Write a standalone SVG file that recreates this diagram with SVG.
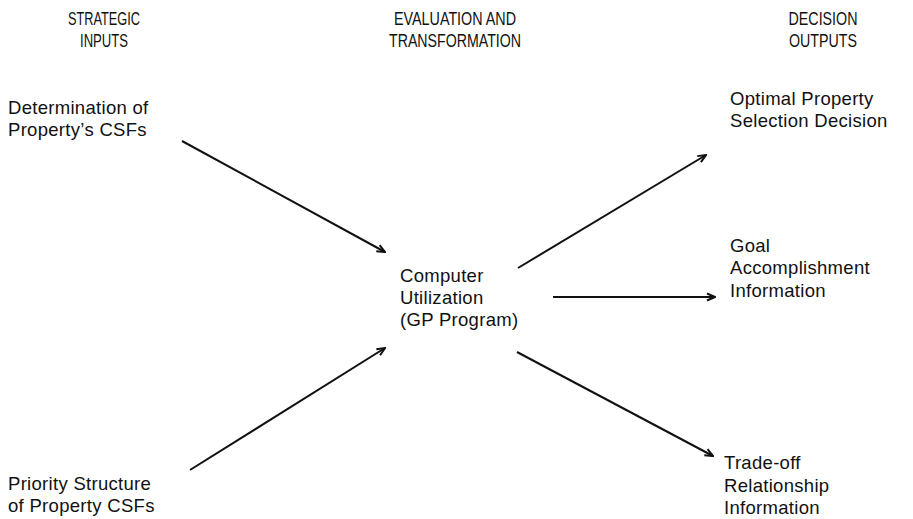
<svg xmlns="http://www.w3.org/2000/svg" width="913" height="519" viewBox="0 0 913 519">
<style>
.h{font-family:"Liberation Sans",Arial,sans-serif;font-size:18px;fill:#111;text-anchor:middle}
.t{font-family:"Liberation Sans",Arial,sans-serif;font-size:18.5px;letter-spacing:0.3px;fill:#111}
.c line{stroke:#111;stroke-width:2;fill:none}
</style>
<defs>
<marker id="ah" viewBox="0 0 10 10" refX="9" refY="5" markerWidth="10" markerHeight="10" markerUnits="userSpaceOnUse" orient="auto">
<path d="M1,1.5 L9,5 L1,8.5" fill="none" stroke="#111" stroke-width="2"/>
</marker>
</defs>
<rect width="913" height="519" fill="#fff"/>
<g id="headers">
<text class="h" x="104" y="25" textLength="72" lengthAdjust="spacingAndGlyphs">STRATEGIC</text>
<text class="h" x="104" y="47" textLength="48" lengthAdjust="spacingAndGlyphs">INPUTS</text>
<text class="h" x="455" y="25" textLength="122" lengthAdjust="spacingAndGlyphs">EVALUATION AND</text>
<text class="h" x="455" y="47" textLength="132" lengthAdjust="spacingAndGlyphs">TRANSFORMATION</text>
<text class="h" x="823" y="25" textLength="69" lengthAdjust="spacingAndGlyphs">DECISION</text>
<text class="h" x="823" y="47" textLength="68" lengthAdjust="spacingAndGlyphs">OUTPUTS</text>
</g>
<g id="n-determination" class="t">
<text x="8" y="114">Determination of</text>
<text x="8" y="136">Property’s CSFs</text>
</g>
<g id="n-priority" class="t">
<text x="8" y="490">Priority Structure</text>
<text x="8" y="512">of Property CSFs</text>
</g>
<g id="n-computer" class="t">
<text x="400" y="282">Computer</text>
<text x="400" y="304">Utilization</text>
<text x="400" y="326">(GP Program)</text>
</g>
<g id="n-optimal" class="t">
<text x="730" y="105">Optimal Property</text>
<text x="730" y="127">Selection Decision</text>
</g>
<g id="n-goal" class="t">
<text x="730" y="252">Goal</text>
<text x="730" y="274">Accomplishment</text>
<text x="730" y="297">Information</text>
</g>
<g id="n-tradeoff" class="t">
<text x="724" y="469">Trade-off</text>
<text x="724" y="492">Relationship</text>
<text x="724" y="514">Information</text>
</g>
<g id="connectors" class="c">
<line x1="182" y1="141" x2="385" y2="252" marker-end="url(#ah)"/>
<line x1="190" y1="470" x2="385" y2="348" marker-end="url(#ah)"/>
<line x1="518" y1="268" x2="706" y2="155" marker-end="url(#ah)"/>
<line x1="553" y1="297" x2="715" y2="297" marker-end="url(#ah)"/>
<line x1="517" y1="352" x2="713" y2="456" marker-end="url(#ah)"/>
</g>
</svg>
